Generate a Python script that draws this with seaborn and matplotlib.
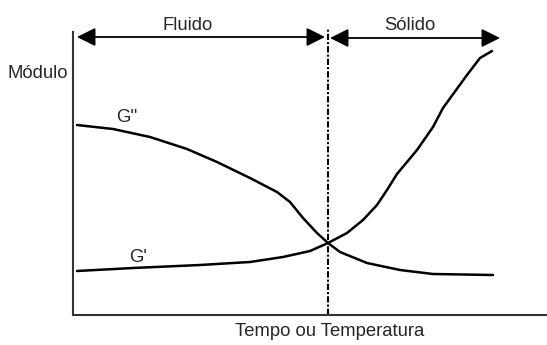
import numpy as np
import pandas as pd
import matplotlib
matplotlib.use("Agg")
import matplotlib.pyplot as plt
import seaborn as sns

# curva G'' (modulo de perda)
g2_x = [4, 40, 77, 114, 144, 177, 204, 217, 230, 244, 255, 267, 294, 327, 360, 420]
g2_y = [190, 186, 178, 166, 153, 137, 123, 113, 97, 82, 72, 63, 52, 45, 41, 40]

# curva G' (modulo de armazenamento)
g1_x = [4, 60, 127, 177, 210, 237, 255, 274, 290, 304, 314, 324, 344, 360, 370, 394, 407, 419]
g1_y = [44, 47, 50, 53, 58, 64, 72, 82, 95, 110, 125, 141, 165, 188, 207, 240, 257, 264]

gel_x = 255  # ponto de gel (cruzamento)

sns.set_style("white")
plt.rcParams['font.family'] = ['Liberation Sans', 'DejaVu Sans']

fig = plt.figure(figsize=(5.47, 3.45), dpi=100)
ax = fig.add_axes([73 / 547, 30 / 345, 474 / 547, 283 / 345])

df = pd.concat([
    pd.DataFrame({'x': g2_x, 'y': g2_y, 'curva': "G''"}),
    pd.DataFrame({'x': g1_x, 'y': g1_y, 'curva': "G'"}),
])
sns.lineplot(data=df, x='x', y='y', units='curva', estimator=None, sort=False,
             color='black', linewidth=1.8, ax=ax)

ax.axvline(gel_x, ymin=0, ymax=1.01, color='black', linestyle=(0, (3, 1, 1, 1)),
           linewidth=1.5, clip_on=False)

ax.set_xlim(0, 474)
ax.set_ylim(0, 283)
ax.set_xticks([])
ax.set_yticks([])
ax.set_xlabel('')
ax.set_ylabel('')
for s in ['top', 'right']:
    ax.spines[s].set_visible(False)
for s in ['left', 'bottom']:
    ax.spines[s].set_color('#333333')
    ax.spines[s].set_linewidth(1.5)

arrow = dict(arrowstyle='<|-|>', color='black', lw=1.3, mutation_scale=28, shrinkA=0, shrinkB=0)
ax.annotate('', xy=(4, 278), xytext=(252, 278), arrowprops=arrow, annotation_clip=False)
ax.annotate('', xy=(257, 277), xytext=(427, 277), arrowprops=arrow, annotation_clip=False)

fs = 13.3
ax.text(115, 290, 'Fluido', ha='center', va='center', fontsize=fs, clip_on=False)
ax.text(337, 290, 'Sólido', ha='center', va='center', fontsize=fs, clip_on=False)
ax.text(54, 198, "G''", ha='center', va='center', fontsize=fs)
ax.text(65, 58, "G'", ha='center', va='center', fontsize=fs)
fig.text(68 / 547, 1 - 73 / 345, 'Módulo', ha='right', va='center', fontsize=fs)
fig.text(330 / 547, 1 - 332 / 345, 'Tempo ou Temperatura', ha='center', va='center', fontsize=fs)

fig.savefig('out.png', dpi=100, facecolor='white')
